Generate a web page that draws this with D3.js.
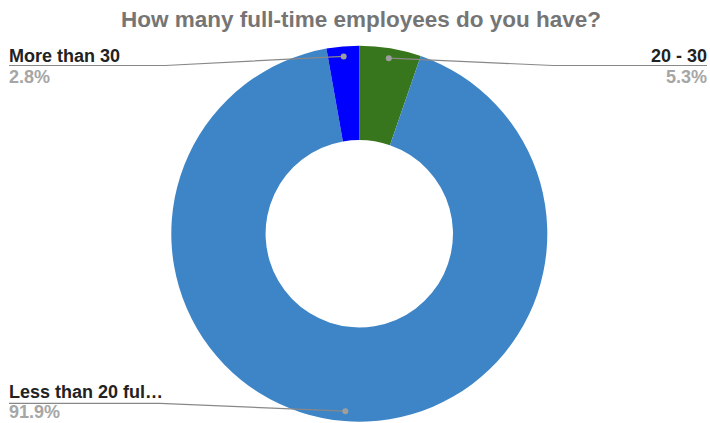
<!DOCTYPE html>
<html>
<head>
<meta charset="utf-8">
<script src="https://cdn.jsdelivr.net/npm/d3@7"></script>
<style>
  html, body { margin: 0; padding: 0; background: #fff; }
  svg { display: block; }
</style>
</head>
<body>
<svg id="chart" width="710" height="423"></svg>
<script>
const titleText = "How many full-time employees do you have?";
const categories = ["20 - 30", "Less than 20 full-time employees", "More than 30"];
const shortLabels = ["20 - 30", "Less than 20 ful…", "More than 30"];
const values = [5.3, 91.9, 2.8];
const colors = ["#38761d", "#3d85c6", "#0000ff"];

const W = 710, H = 423;
const cx = 359.3, cy = 233.7;
const outerR = 188, innerR = 93.7;

const svg = d3.select("#chart");
const font = "'Liberation Sans', Arial, sans-serif";

svg.append("text")
  .attr("x", 361).attr("y", 26.5)
  .attr("text-anchor", "middle")
  .attr("font-family", font).attr("font-weight", "bold")
  .attr("font-size", 22.5).attr("fill", "#757575")
  .text(titleText);

const pie = d3.pie().sort(null).value(d => d.v);
const data = values.map((v, i) => ({ v, i }));
const arcs = pie(data);

const arc = d3.arc().innerRadius(innerR).outerRadius(outerR);
const g = svg.append("g").attr("transform", `translate(${cx},${cy})`);

g.selectAll("path.slice").data(arcs).enter().append("path")
  .attr("class", "slice")
  .attr("d", arc)
  .attr("fill", d => colors[d.data.i]);

// label placement: side, leader elbow and text rows
const dotR = 178;
const layout = [
  { side: "right", lineY: 65.5, elbowX: 553, nameY: 61.5, pctY: 82.5 },
  { side: "left", lineY: 403.3, elbowX: 160, nameY: 398.3, pctY: 418 },
  { side: "left", lineY: 65.5, elbowX: 165, nameY: 61.5, pctY: 82.5 }
];

arcs.forEach((a, k) => {
  const L = layout[k];
  const mid = (a.startAngle + a.endAngle) / 2;
  const dx = cx + Math.sin(mid) * dotR;
  const dy = cy - Math.cos(mid) * dotR;
  const edgeX = L.side === "left" ? 9 : 707;
  svg.append("polyline")
    .attr("points", `${dx},${dy} ${L.elbowX},${L.lineY} ${edgeX},${L.lineY}`)
    .attr("fill", "none").attr("stroke", "#888").attr("stroke-width", 1.2);
  svg.append("circle").attr("cx", dx).attr("cy", dy).attr("r", 3).attr("fill", "#9e9e9e");
  const anchor = L.side === "left" ? "start" : "end";
  svg.append("text")
    .attr("x", edgeX).attr("y", L.nameY)
    .attr("text-anchor", anchor)
    .attr("font-family", font).attr("font-weight", "bold")
    .attr("font-size", 18).attr("fill", "#222")
    .text(shortLabels[a.data.i]);
  svg.append("text")
    .attr("x", edgeX).attr("y", L.pctY)
    .attr("text-anchor", anchor)
    .attr("font-family", font).attr("font-weight", "bold")
    .attr("font-size", 18).attr("fill", "#a6a6a6")
    .text(values[a.data.i].toFixed(1) + "%");
});
</script>
</body>
</html>
